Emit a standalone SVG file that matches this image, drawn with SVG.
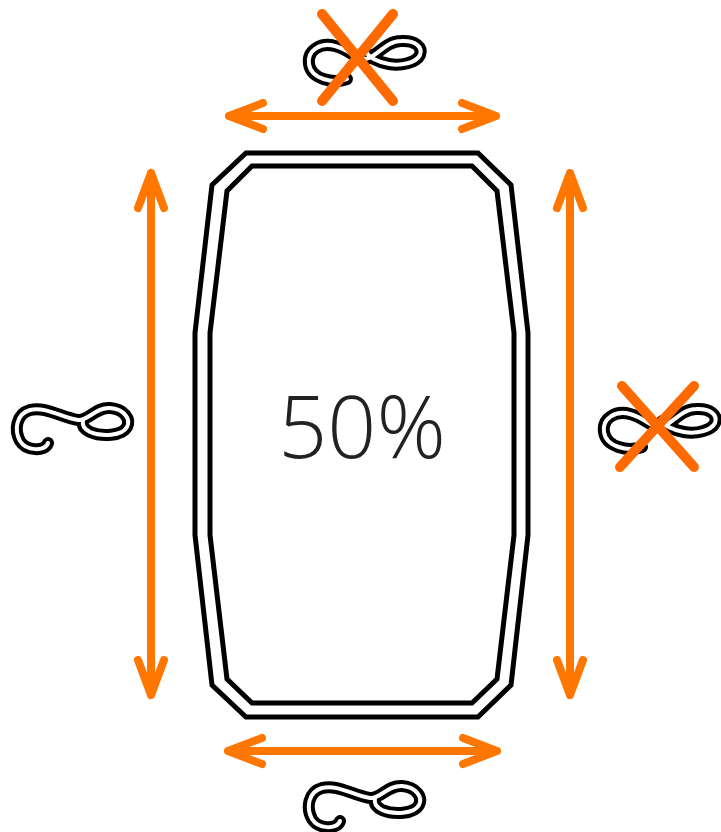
<svg xmlns="http://www.w3.org/2000/svg" xmlns:xlink="http://www.w3.org/1999/xlink" width="721" height="832" viewBox="0 0 721 832">
<style>
.frame{fill:none;stroke:#000;stroke-width:5;stroke-linejoin:miter}
.arrow{fill:none;stroke:#FF7700;stroke-width:8;stroke-linecap:round;stroke-linejoin:round}
.cross{fill:none;stroke:#FF6A00;stroke-width:10;stroke-linecap:round}
.ropeOut{fill:none;stroke:#000;stroke-width:12;stroke-linecap:round;stroke-linejoin:round}
.ropeIn{fill:none;stroke:#fff;stroke-width:4;stroke-linecap:round;stroke-linejoin:round}
.label{font-family:"Open Sans","Liberation Sans",sans-serif;font-weight:300;font-size:86px;fill:#222}
</style>
<defs>
<path id="hook" d="M38,38 C35,47 16,46 10,36 C4,25 6,9 20,5 C36,1 52,13 68,15 C78,16 86,2 100,3 C114,4 121,14 117,22 C112,31 92,32 80,27 C74,24 72,20 73,16"/>
<path id="eight" d="M42,42 C28,47 6,42 4,27 C2,13 16,5 30,9 C45,13 50,22 60,22 C70,22 80,4 96,4 C110,3 118,10 115,18 C111,26 96,29 84,27 C72,25 64,20 62,16"/>
</defs>
<g id="frame">
<polygon class="frame" points="246,153 478,153 511,185 528,333 528,535 511,685 478,717 246,717 212,685 195,535 195,333 212,185"/>
<polygon class="frame" points="252,166 472,166 497,191 514,333 514,535 497,679 472,703 252,703 227,679 210,535 210,333 227,191"/>
</g>
<g id="label"><text class="label" x="362" y="458" text-anchor="middle">50%</text></g>
<g id="connectors">
<path class="arrow" d="M229,116 H496 M263,103 L229,116 L263,129 M462,103 L496,116 L462,129"/>
<path class="arrow" d="M228,751 H497 M262,738 L228,751 L262,764 M463,738 L497,751 L463,764"/>
<path class="arrow" d="M151,173 V695 M138,208 L151,173 L164,208 M138,660 L151,695 L164,660"/>
<path class="arrow" d="M570,173 V695 M557,208 L570,173 L583,208 M557,660 L570,695 L583,660"/>
</g>
<g id="rope-top" transform="translate(305,37)">
<use xlink:href="#eight" class="ropeOut"/><use xlink:href="#eight" class="ropeIn"/>
</g>
<g id="cross-top"><path class="cross" d="M322,14 L393,101 M393,14 L322,101"/></g>
<g id="rope-left" transform="translate(10,405)">
<use xlink:href="#hook" class="ropeOut"/><use xlink:href="#hook" class="ropeIn"/>
</g>
<g id="rope-right" transform="translate(600,405)">
<use xlink:href="#eight" class="ropeOut"/><use xlink:href="#eight" class="ropeIn"/>
</g>
<g id="cross-right"><path class="cross" d="M622,386 L694,467 M694,386 L620,467"/></g>
<g id="rope-bottom" transform="translate(302,783)">
<use xlink:href="#hook" class="ropeOut"/><use xlink:href="#hook" class="ropeIn"/>
</g>
</svg>
